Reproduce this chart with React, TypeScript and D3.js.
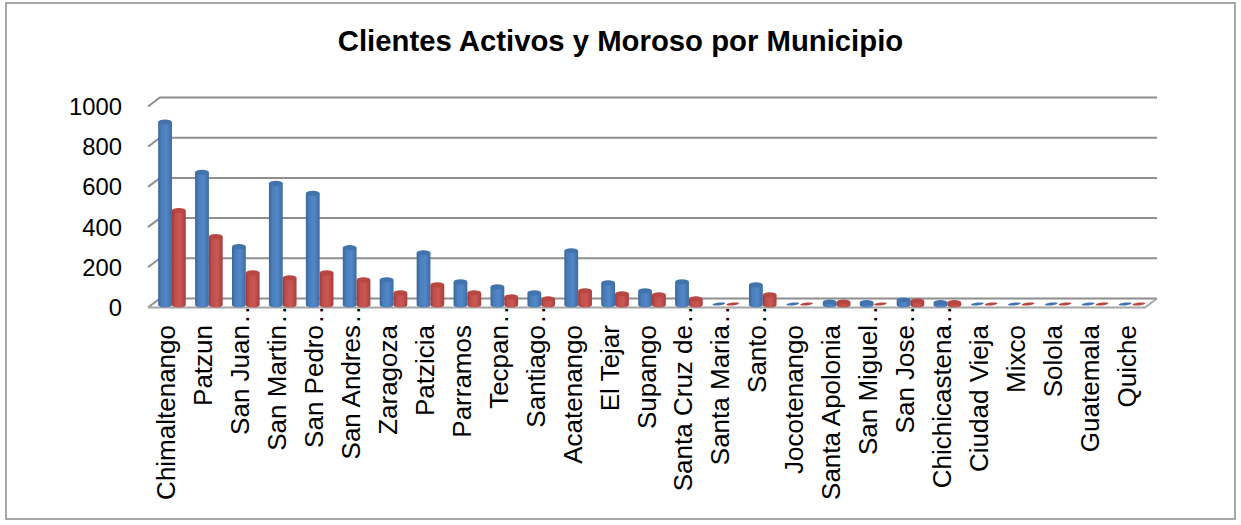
import React from "react";
import * as d3 from "d3";

const categories = ["Chimaltenango","Patzun","San Juan...","San Martin...","San Pedro...","San Andres...","Zaragoza","Patzicia","Parramos","Tecpan...","Santiago...","Acatenango","El Tejar","Supango","Santa Cruz de...","Santa Maria...","Santo...","Jocotenango","Santa Apolonia","San Miguel...","San Jose...","Chichicastena...","Ciudad Vieja","Mixco","Solola","Guatemala","Quiche"];
const activos = [910,660,290,605,555,285,125,260,115,90,60,270,110,70,115,5,100,5,15,12,25,12,5,5,5,5,5];
const morosos = [470,340,160,135,160,125,60,100,60,40,30,70,55,50,30,5,50,5,15,5,20,12,5,5,5,5,5];
const yTicks = [0,200,400,600,800,1000];
const title = "Clientes Activos y Moroso por Municipio";

const W = 1241, H = 525;
const FONT = "'Liberation Sans', Arial, sans-serif";
const x = d3.scaleBand<string>().domain(categories).range([148, 1145]);
const barW = 13.8;
const yWall = d3.scaleLinear().domain([0, 1000]).range([298.5, 97.5]);
const yBar = d3.scaleLinear().domain([0, 1000]).range([305, 104]);
const yFront = d3.scaleLinear().domain([0, 1000]).range([307.5, 106.5]);
const DX = 12;

function Cyl({ cx, v, fill, top }: { cx: number; v: number; fill: string; top: string }) {
  const y1 = yBar(v), y0 = yBar(0), rx = barW / 2, ry = v < 10 ? 1.4 : 2.6;
  if (v < 10) {
    return <ellipse cx={cx} cy={y1} rx={rx - 0.5} ry={ry} fill={top} transform={`rotate(-7 ${cx} ${y1})`} />;
  }
  const body = `M${cx - rx},${y1}L${cx - rx},${y0}A${rx},${ry} 0 0 0 ${cx + rx},${y0}L${cx + rx},${y1}Z`;
  return <g>
    <path d={body} fill={`url(#${fill})`} />
    <ellipse cx={cx} cy={y1} rx={rx} ry={ry} fill={top} />
  </g>;
}

export default function App() {
  return (
    <svg width={W} height={H} style={{ position: "absolute", left: 0, top: 0, background: "#fff" }}>
      <defs>
        <linearGradient id="blue" x1="0" x2="1" y1="0" y2="0">
          <stop offset="0" stopColor="#3a659a" /><stop offset="0.25" stopColor="#4a7ebb" /><stop offset="0.6" stopColor="#5288c8" /><stop offset="1" stopColor="#3d6ba3" />
        </linearGradient>
        <linearGradient id="red" x1="0" x2="1" y1="0" y2="0">
          <stop offset="0" stopColor="#9c3a38" /><stop offset="0.25" stopColor="#c0504d" /><stop offset="0.6" stopColor="#cc5653" /><stop offset="1" stopColor="#a53f3c" />
        </linearGradient>
      </defs>
      <rect x={6} y={3} width={1229} height={516} fill="#fff" stroke="#8c8c8c" strokeWidth={1.5} />
      <text x={620.5} y={51} textAnchor="middle" fontFamily={FONT} fontWeight="bold" fontSize={29.3}>{title}</text>
      {yTicks.map(t => (
        <g key={t}>
          <polyline points={`${148},${yFront(t)} ${148 + DX},${yWall(t)} ${1157},${yWall(t)}`} fill="none" stroke="#8e8e8e" strokeWidth={2} />
          <text x={122} y={yFront(t) + 8.5} textAnchor="end" fontFamily={FONT} fontSize={23.8}>{t}</text>
        </g>
      ))}
      <polyline points={`148,${yFront(0)} 1145,${yFront(0)} 1157,${yWall(0)}`} fill="none" stroke="#a6a6a6" strokeWidth={2} />
      {categories.map((c, i) => {
        const cx = x(c)! + x.bandwidth() / 2 + 5.5;
        const cut = c.endsWith("...");
        return <g key={c}>
          <Cyl cx={cx - barW / 2} v={activos[i]} fill="blue" top="#4373ad" />
          <Cyl cx={cx + barW / 2} v={morosos[i]} fill="red" top="#b84643" />
          <text transform={`translate(${cx + 3.5},325) rotate(-90)`} textAnchor="end" fontFamily={FONT} fontSize={26}>{cut ? c.slice(0, -3) : c}</text>
          {cut && <text transform={`translate(${cx + 3.5},304.6) rotate(-90)`} textAnchor="end" fontFamily={FONT} fontSize={26} letterSpacing={1.8}>..</text>}
        </g>;
      })}
    </svg>
  );
}
